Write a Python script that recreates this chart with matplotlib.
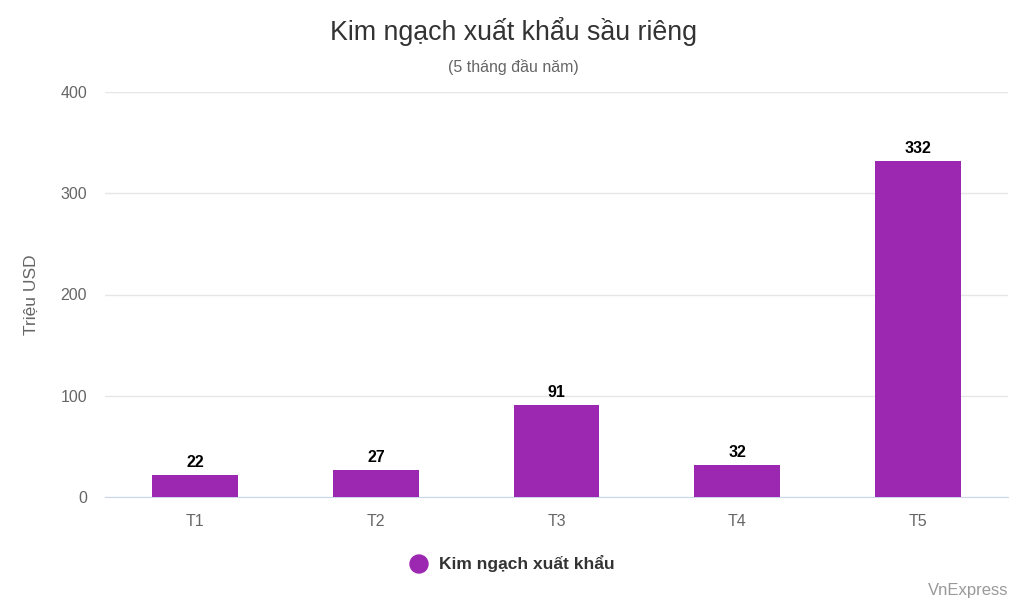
import matplotlib
matplotlib.use("Agg")
import matplotlib.pyplot as plt
from matplotlib.patches import Ellipse

categories = ["T1", "T2", "T3", "T4", "T5"]
values = [22, 27, 91, 32, 332]
yticks = [0, 100, 200, 300, 400]

plt.rcParams['font.family'] = ['Liberation Sans', 'DejaVu Sans']
fig = plt.figure(figsize=(10.26, 6.13), dpi=100, facecolor="white")
ax = fig.add_axes([105/1026, 1-497/613, 903/1026, 405/613])
x = list(range(len(categories)))
ax.bar(x, values, width=0.475, color="#9c27b0", zorder=3)
for xi, v in zip(x, values):
    ax.text(xi, v + 5, str(v), ha="center", va="bottom", fontsize=11.5, fontweight="bold", color="black")
ax.set_xlim(-0.5, 4.5)
ax.set_ylim(0, 400)
ax.set_yticks(yticks)
ax.set_yticklabels([str(t) for t in yticks], fontsize=11.5, color="#666666")
ax.set_xticks(x)
ax.set_xticklabels(categories, fontsize=11.5, color="#666666")
ax.tick_params(axis="x", length=0, pad=12)
ax.tick_params(axis="y", length=0, pad=13)
ax.grid(axis="y", color="#e6e6e6", linewidth=1, zorder=0)
for s in ["top", "right", "left"]:
    ax.spines[s].set_visible(False)
ax.spines["bottom"].set_color("#ccd6eb")
ax.set_ylabel("Triệu USD", fontsize=12.5, color="#666666", labelpad=0)
ax.yaxis.set_label_coords(-66/903, 0.5)

fig.text(0.5, 1-31/613, "Kim ngạch xuất khẩu sầu riêng", ha="center", va="center", fontsize=19.3, color="#333333")
fig.text(0.5, 1-67/613, "(5 tháng đầu năm)", ha="center", va="center", fontsize=11.5, color="#666666")
fig.patches.append(Ellipse((419/1026, 1-564/613), 18/1026, 18/613, transform=fig.transFigure, color="#9c27b0"))
fig.text(439/1026, 1-564/613, "Kim ngạch xuất khẩu", ha="left", va="center", fontsize=12.5, fontweight="bold", color="#333333")
fig.text(1008/1026, 1-590/613, "VnExpress", ha="right", va="center", fontsize=12, color="#999999")
fig.savefig("out.png", dpi=100, facecolor="white")
